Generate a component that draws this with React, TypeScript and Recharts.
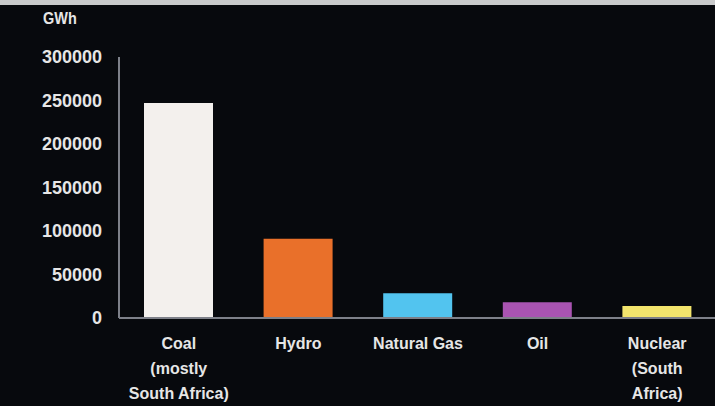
import { BarChart, Bar, XAxis, YAxis, Cell } from "recharts";

const categories = ["Coal\n(mostly\nSouth Africa)", "Hydro", "Natural Gas", "Oil", "Nuclear\n(South\nAfrica)"];
const generation = [247000, 91000, 28500, 18000, 13800];
const barColors = ["#f3f0ed", "#e9702a", "#52c4ef", "#a954b2", "#f3e56d"];
const yTicks = [0, 50000, 100000, 150000, 200000, 250000, 300000];

const data = categories.map((name, i) => ({ name, value: generation[i] }));

const FONT = '"Liberation Sans", Arial, sans-serif';

function CategoryTick(props: any) {
  const { x, y, payload } = props;
  const lines = String(payload.value).split("\n");
  return (
    <text
      x={x}
      y={y + 23}
      textAnchor="middle"
      fill="#e6e6e6"
      fontFamily={FONT}
      fontWeight="bold"
      fontSize={16}
    >
      {lines.map((line, i) => (
        <tspan key={i} x={x} dy={i === 0 ? 0 : 25}>
          {line}
        </tspan>
      ))}
    </text>
  );
}

export default function App() {
  return (
    <div
      style={{
        position: "absolute",
        left: 0,
        top: 0,
        width: 715,
        height: 406,
        overflow: "hidden",
        background: "#07090d",
      }}
    >
      {/* top border strip */}
      <div style={{ position: "absolute", left: 0, top: 0, width: 715, height: 5, background: "#c9cacb" }} />
      <div
        style={{
          position: "absolute",
          left: 43,
          top: 9,
          color: "#e6e6e6",
          fontFamily: FONT,
          fontWeight: "bold",
          fontSize: 17,
          transform: "scaleX(0.85)",
          transformOrigin: "left top",
        }}
      >
        GWh
      </div>
      <BarChart width={717} height={406} data={data} margin={{ top: 57, right: 0, bottom: 0, left: 0 }}>
        <YAxis
          width={119}
          domain={[0, 300000]}
          ticks={yTicks}
          interval={0}
          tickLine={false}
          tickSize={0}
          tickMargin={17}
          axisLine={{ stroke: "#7d8089", strokeWidth: 2 }}
          tick={{ fill: "#e6e6e6", fontFamily: FONT, fontWeight: "bold", fontSize: 18 }}
        />
        <XAxis
          dataKey="name"
          height={88}
          interval={0}
          tickLine={false}
          axisLine={{ stroke: "#7d8089", strokeWidth: 2 }}
          tick={<CategoryTick />}
        />
        <Bar dataKey="value" barSize={69} isAnimationActive={false}>
          {data.map((d, i) => (
            <Cell key={d.name} fill={barColors[i]} />
          ))}
        </Bar>
      </BarChart>
    </div>
  );
}
